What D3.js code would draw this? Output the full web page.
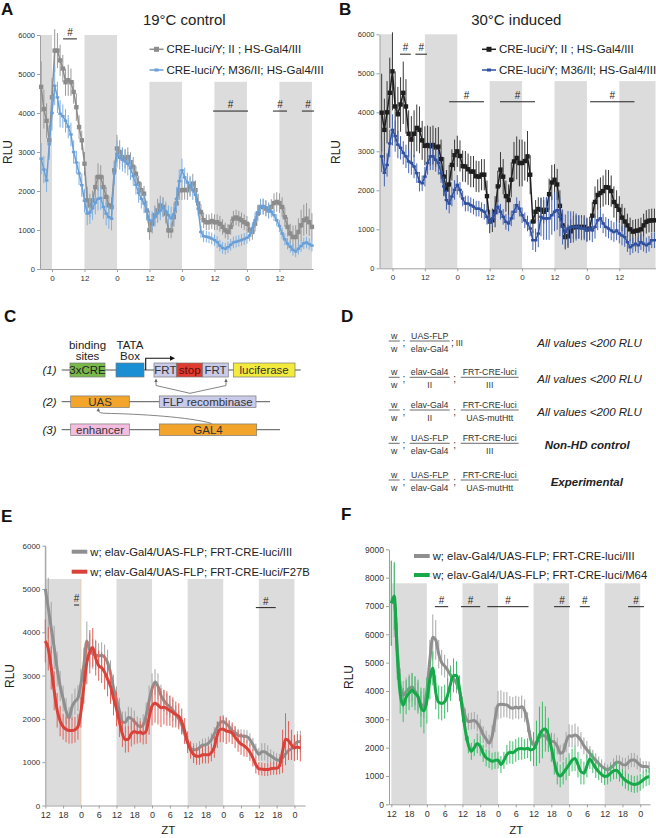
<!DOCTYPE html>
<html><head><meta charset="utf-8">
<script src="https://cdn.jsdelivr.net/npm/d3@7"></script>
<style>body{margin:0;background:#fff}svg{display:block}</style>
</head><body>
<svg id="fig" width="656" height="838"></svg>
<script>
// ---------------- DATA ----------------
// Panel A (19°C control), hourly from ZT -4 to 96
const aStart = -4;
const aGray = [4670,4100,3800,3300,4400,
 5600,5600,5350,5140,4790,4840,4790,4540,4150,3640,3300,2700,
 1760,1630,1760,2100,2360,2360,2100,1850,1630,1590,2530,3090,
 3000,2870,2830,2870,2740,2620,2440,2190,2020,1930,1500,1000,
 1160,1380,1500,1630,1590,1420,990,990,1330,1680,2020,2020,
 2030,2020,2100,2190,2020,1680,1460,1250,1200,1200,1230,1200,
 1200,1160,1080,990,950,1080,1290,1320,1290,1250,1200,1160,
 990,950,1160,1420,1590,1590,1550,1500,1590,1690,1720,1690,
 1590,1330,1080,910,820,820,950,1120,1250,1290,1200,1080];
const aGrayErr = [650,500,450,400, 500,550,450,400, 350,350,400,350,300,350,300,250,
 300,350,300,250,300,350,300,300,250,250,250,250,
 350,300,250,250,250,250,250,200,200,200,200,250,
 250,250,250,300,250,250,250,200,200,250,250,250,
 250,250,250,250,250,250,250,200,200,200,200,200,
 200,200,200,200,200,200,200,200,200,200,200,200,
 200,200,200,200,200,200,200,200,200,200,250,250,
 250,250,250,250,250,300,300,350,400,400,400,350,350];
const aBlue = [2830,2550,2270,3200,4000,
 4700,4400,3980,3920,3800,3650,3450,3000,2730,2450,2150,1750,
 1420,1450,1560,1700,1800,1820,1590,1420,1330,1290,2450,2950,
 2850,2800,2760,2700,2580,2380,2160,1950,1800,1680,1500,1250,
 1230,1330,1430,1500,1580,1480,1380,1300,1400,1800,2250,2530,
 2350,2220,2140,2020,1900,1550,950,840,830,810,780,740,
 690,600,540,520,560,620,680,700,720,745,770,800,
 860,1050,1250,1450,1600,1610,1570,1500,1470,1380,1250,1100,
 910,760,650,570,490,450,520,590,660,680,640,600];
const aBlueErr = [400,350,300,400, 450,500,400,350, 300,300,300,300,300,300,300,300,
 300,300,300,300,300,300,300,300,300,300,300,300,
 350,300,300,300,300,300,250,250,250,250,250,250,
 250,250,250,250,250,250,250,250,300,300,300,300,
 300,250,250,250,250,200,200,150,150,150,150,150,
 150,150,150,150,150,150,150,150,150,150,150,150,
 150,150,150,200,200,200,200,200,200,150,150,150,
 150,150,150,150,150,150,150,150,150,150,150,150,150];

// Panel B (30°C induced), hourly from ZT -4 to 97
const bStart = -4;
const bBlack = [3990,3550,4000,4500,5050,
 4150,3950,4200,4500,4150,3450,3300,3450,3600,3550,3280,3140,
 3160,3130,3160,3100,3120,2800,2350,2020,2150,2650,2900,3000,
 2880,2620,2610,2540,2480,2480,2360,2350,2400,2400,1850,1200,
 1230,1450,2100,2530,2350,1850,1750,2270,2740,2830,2700,2700,
 2750,2870,2400,1200,1450,1520,1500,1450,1500,1900,2200,2270,
 2150,1600,1100,800,820,950,1050,1060,1060,1060,1060,1000,
 1020,1350,1700,1880,1930,1980,2080,2070,1980,1700,1600,1500,
 1300,1200,1100,1000,940,960,970,1000,1100,1190,1220,1230,1230];
const bBlackErr = [1000,800,800,900, 1000,900,700,700, 800,700,600,600,600,600,600,500,
 500,500,500,500,500,500,500,500,500,500,400,400,
 400,400,400,400,400,400,400,400,400,400,400,400,
 300,300,400,400,450,450,400,400,450,500,550,600,
 600,500,650,500,300,300,300,300,300,300,400,450,
 400,400,400,300,300,300,300,300,300,300,300,300,
 300,300,350,400,400,400,400,450,450,400,400,400,
 350,350,350,300,300,300,300,300,300,300,300,300,300,300];
const bBlue = [2870,2450,2650,3200,3550,
 3390,3170,3090,2960,2870,2740,2700,2610,2440,2220,2180,2350,
 2700,2870,2870,2780,2700,2440,2100,1750,1660,1840,2010,2140,
 2010,1790,1660,1660,1620,1580,1530,1530,1490,1450,1320,1190,
 1280,1410,1580,1450,1320,1190,1150,1280,1450,1620,1530,1360,
 1230,1150,1020,720,720,890,1320,1280,1280,1280,1360,1450,
 1490,1320,1060,930,1020,1060,1060,1060,1060,1020,1020,970,
 1020,970,1060,1230,1280,1150,1060,1020,970,930,970,890,
 840,800,670,540,590,630,590,670,630,590,630,720,720];
const bBlueErr = [400,350,300,350, 400,400,350,300, 300,300,300,300,300,250,250,200,
 250,300,350,350,300,300,250,250,250,250,250,250,
 250,200,200,200,200,200,200,200,200,200,200,200,
 200,200,200,200,200,200,200,200,200,200,200,200,
 200,200,200,200,250,300,350,500,550,550,550,500,
 500,500,500,450,450,450,400,400,350,300,300,300,
 300,300,300,300,250,250,250,250,250,250,250,250,
 250,250,250,250,200,200,200,200,200,200,200,200,200,200];

// Panel E, hourly from start (ZT12) 0..86 h
const eGray = [5000,4560,4100,3650,3150,2760,2470,2180,2020,2280,2400,2480,
 2800,3250,3800,3580,3500,3480,3450,3470,3420,3300,3050,2720,
 2450,2180,1920,1920,2030,2010,1940,1860,1820,1860,2080,2420,
 2700,2850,2750,2540,2420,2340,2280,2200,2110,2000,1860,1650,
 1450,1330,1290,1290,1340,1390,1400,1440,1520,1660,1800,1920,
 1940,1890,1820,1730,1680,1620,1610,1600,1590,1520,1410,1280,
 1180,1240,1240,1190,1150,1100,1060,1040,1100,1190,1270,1310,1400,1470,1480];
const eGrayErr = [1000,700,600,500,400,350,300,300,250,300,300,300,
 350,400,450,400,350,350,300,300,300,300,300,300,
 300,300,250,250,250,250,250,200,200,250,300,350,
 350,300,300,250,250,250,250,250,200,200,200,200,
 150,150,150,150,150,150,150,150,150,150,150,150,
 150,150,150,150,150,150,150,150,150,150,150,150,
 150,200,200,200,150,150,150,150,150,150,200,200,200,250,250];
const eRed = [3800,3620,3180,2650,2200,1950,1820,1760,1730,1730,1750,1820,
 2150,2750,3300,3550,3650,3400,3230,3180,3080,2920,2750,2480,
 2230,1930,1650,1520,1530,1660,1710,1680,1700,1660,1720,2030,
 2300,2360,2320,2260,2270,2240,2190,2150,2100,2060,1940,1720,
 1460,1280,1180,1140,1140,1170,1170,1170,1220,1350,1630,1760,
 1760,1720,1710,1670,1580,1490,1420,1380,1320,1230,1100,940,
 850,840,830,830,850,860,860,920,1250,1530,1500,1400,1330,1350,1320];
const eRedErr = [500,500,500,450,400,350,300,300,300,300,300,300,
 350,400,500,500,450,400,350,350,400,400,400,400,
 400,350,300,300,300,300,300,250,250,250,300,400,
 450,450,450,450,400,400,350,350,300,300,300,300,
 250,200,200,200,200,200,200,200,200,250,300,300,
 300,300,250,250,250,250,250,250,200,200,200,200,
 150,150,150,150,150,150,150,200,500,600,450,350,300,300,300];

// Panel F, hourly from start (ZT12) 0..87 h
const fGray = [7090,7200,5500,4200,3850,3970,4090,4140,4000,3800,3550,3450,
 4000,5100,5900,5800,5300,5000,4880,4740,4560,4440,4270,4000,
 3500,3090,2920,2940,2960,2870,2700,2460,2300,2160,2390,3000,
 3500,3530,3520,3510,3420,3390,3430,3400,3440,3300,2900,2300,
 2100,2200,2360,2440,2400,2270,2230,2200,2050,1800,1850,2200,
 2420,2400,2450,2390,2250,2060,1930,1800,1670,1550,1440,1340,
 1270,1210,1290,1370,1480,1480,1400,1390,1480,1560,1560,1480,1380,1330,1330,1310];
const fGrayErr = [1500,1300,900,600,500,500,500,500,500,500,450,400,
 500,700,800,700,500,450,400,400,350,350,350,350,
 300,300,300,300,300,300,300,300,300,300,400,450,
 500,500,450,450,400,400,400,400,400,400,350,300,
 300,300,300,300,300,300,300,300,300,300,300,350,
 400,400,400,350,300,300,300,250,250,250,250,250,
 200,200,200,250,250,250,250,250,250,250,250,250,250,200,200,200];
const fGreen = [7100,7350,5300,3900,3500,3780,3920,4030,3920,3800,3420,3300,
 3650,4400,4800,3950,3600,3560,3620,3850,4250,4550,4550,4100,
 3300,2600,2100,1870,2000,2150,2050,1800,1640,1580,1520,1550,
 1560,1400,1550,1750,1840,1820,1900,1960,1970,1950,1980,1920,
 1950,2150,2450,2620,2660,2450,2000,1500,1100,1000,1100,1250,
 1400,1560,1620,1400,1150,1100,1350,1600,1450,1280,1150,1050,
 980,1000,1100,1180,1200,1100,950,850,780,730,700,720,780,860,940,980];
const fGreenErr = [1500,1200,900,700,600,600,600,600,600,600,700,800,
 800,700,600,600,600,600,600,600,600,600,500,450,
 400,350,300,300,300,350,350,300,300,300,300,300,
 300,300,300,350,400,400,400,400,400,350,350,400,
 600,800,1000,1000,800,600,500,450,400,400,400,400,
 400,400,450,450,450,400,400,350,350,350,300,300,
 300,300,300,300,300,300,300,300,300,300,300,300,300,300,300,300];

// tick labels
const abTickVals = [0,12,24,36,48,60,72,84];
const abTickLabels = ["0","12","0","12","0","12","0","12"];
const efTickVals = [0,6,12,18,24,30,36,42,48,54,60,66,72,78,84];
const efTickLabels = ["12","18","0","6","12","18","0","6","12","18","0","6","12","18","0"];

// legend labels
const abLegend = ["CRE-luci/Y; II ; HS-Gal4/III", "CRE-luci/Y; M36/II; HS-Gal4/III"];
const eLegend = ["w; elav-Gal4/UAS-FLP; FRT-CRE-luci/III", "w; elav-Gal4/UAS-FLP; FRT-CRE-luci/F27B"];
const fLegend = ["w; elav-Gal4/UAS-FLP; FRT-CRE-luci/III", "w; elav-Gal4/UAS-FLP; FRT-CRE-luci/M64"];

// significance intervals [tStart, tEnd, value level]
const aSig = [[4.1,9.2,5900],[59.5,72.4,4050],[81.6,86.8,4050],[92.3,96.8,4050]];
const bSig = [[2.8,6.8,5490],[8.5,12.8,5490],[21.0,33.9,4270],[39.8,52.8,4270],[73.2,89.6,4270]];
const eSig = [[9.7,11.4,4630],[71.0,77.7,4570]];
const fSig = [[14.7,19.2,6975],[23.5,30.0,6975],[32.4,46.3,6975],[54.9,60.3,6975],[63.6,67.0,6975],[79.9,85.3,6975]];

// ---------------- DRAWING ----------------
const FONT = '"Liberation Sans", Arial, Helvetica, sans-serif';
const svg = d3.select('#fig').attr('font-family', FONT);
const SHADE = '#dcdcdc';

function text(g, x, y, s, opt = {}) {
  const t = g.append('text').attr('x', x).attr('y', y).text(s)
    .attr('font-size', opt.size || 11).attr('fill', opt.fill || '#222')
    .attr('text-anchor', opt.anchor || 'start');
  if (opt.italic) t.attr('font-style', 'italic');
  if (opt.bold) t.attr('font-weight', 'bold');
  if (opt.rotate) t.attr('transform', `rotate(${opt.rotate},${x},${y})`);
  return t;
}

function drawPanel(o) {
  const g = svg.append('g');
  const x = d3.scaleLinear().domain(o.tDomain).range(o.xRange);
  const y = d3.scaleLinear().domain([0, o.yMax]).range(o.yRange);
  // night bands
  g.append('g').selectAll('rect').data(o.bands).join('rect')
    .attr('x', d => x(d[0])).attr('width', d => x(d[1]) - x(d[0]))
    .attr('y', d => y(d[2])).attr('height', d => y(0) - y(d[2]))
    .attr('fill', SHADE);
  if (o.bandEdge) {
    const b = o.bands[0];
    g.append('line').attr('x1', x(b[1])).attr('x2', x(b[1])).attr('y1', y(b[2])).attr('y2', y(0))
      .attr('stroke', '#e2cdb0').attr('stroke-width', 1);
  }
  // axes
  const ya = g.append('g').attr('transform', `translate(${o.xRange[0]},0)`)
    .call(d3.axisLeft(y).tickValues(d3.range(0, o.yMax + 1, 1000)).tickFormat(d3.format('d'))
      .tickSize(3).tickSizeOuter(0).tickPadding(2));
  const xa = g.append('g').attr('transform', `translate(0,${o.yRange[0]})`)
    .call(d3.axisBottom(x).tickValues(o.xTicks).tickFormat((d, i) => o.xLabels[i]).tickSize(3).tickSizeOuter(0).tickPadding(3));
  [ya, xa].forEach(a => {
    a.select('.domain').attr('stroke', '#a0a0a0');
    a.selectAll('.tick line').attr('stroke', '#a0a0a0');
    a.selectAll('.tick text').attr('fill', '#333').attr('font-family', FONT);
  });
  ya.selectAll('.tick text').attr('font-size', o.yFont);
  xa.selectAll('.tick text').attr('font-size', o.xFont);
  // series
  o.series.forEach(s => {
    const pts = s.vals.map((v, i) => ({ t: s.t0 + i, v: v, e: s.errs[i] }));
    g.append('g').selectAll('line').data(pts).join('line')
      .attr('x1', d => x(d.t)).attr('x2', d => x(d.t))
      .attr('y1', d => y(Math.max(0, d.v - d.e))).attr('y2', d => y(d.v + d.e))
      .attr('stroke', s.errColor).attr('stroke-width', s.errWidth || 1);
    const line = d3.line().x(d => x(d.t)).y(d => y(d.v));
    if (s.smooth) line.curve(d3.curveMonotoneX);
    g.append('path').datum(pts).attr('d', line).attr('fill', 'none')
      .attr('stroke', s.color).attr('stroke-width', s.width).attr('stroke-linejoin', 'round');
    if (s.marker === 'square') {
      g.append('g').selectAll('rect').data(pts).join('rect')
        .attr('x', d => x(d.t) - 2.2).attr('y', d => y(d.v) - 2.2).attr('width', 4.4).attr('height', 4.4)
        .attr('fill', s.color);
    } else if (s.marker === 'dash') {
      g.append('g').selectAll('rect').data(pts).join('rect')
        .attr('x', d => x(d.t) - 1.8).attr('y', d => y(d.v) - 1.2).attr('width', 3.6).attr('height', 2.4)
        .attr('fill', s.color);
    }
  });
  // significance bars
  o.sig.forEach(sg => {
    g.append('line').attr('x1', x(sg[0])).attr('x2', x(sg[1])).attr('y1', y(sg[2])).attr('y2', y(sg[2]))
      .attr('stroke', '#222').attr('stroke-width', 1);
    text(g, (x(sg[0]) + x(sg[1])) / 2, y(sg[2]) - 3, '#', { size: 10, anchor: 'middle' });
  });
  // legend
  o.legend.forEach((lg, i) => {
    const ly = o.legPos[1] + i * o.legStep;
    const s = o.series[i];
    g.append('line').attr('x1', o.legPos[0]).attr('x2', o.legPos[0] + o.legSw).attr('y1', ly).attr('y2', ly)
      .attr('stroke', s.color).attr('stroke-width', s.legWidth || s.width);
    if (s.marker === 'square')
      g.append('rect').attr('x', o.legPos[0] + o.legSw / 2 - 2.5).attr('y', ly - 2.5).attr('width', 5).attr('height', 5).attr('fill', s.color);
    if (s.marker === 'dash')
      g.append('rect').attr('x', o.legPos[0] + o.legSw / 2 - 2).attr('y', ly - 1.5).attr('width', 4).attr('height', 3).attr('fill', s.color);
    text(g, o.legPos[0] + o.legSw + 3, ly + 4, lg, { size: o.legFont, fill: '#222' });
  });
  return { g, x, y };
}

// Panel A
drawPanel({
  tDomain: [-4.43, 96.4], xRange: [40, 313], yMax: 6000, yRange: [269, 35],
  bands: [[-4.43, 0, 6000], [12, 24, 6000], [36, 48, 4800], [60, 72, 4800], [84, 96, 4800]],
  xTicks: abTickVals, xLabels: abTickLabels, xFont: 8, yFont: 7.5,
  series: [
    { t0: aStart, vals: aGray, errs: aGrayErr, color: '#8c8c8c', errColor: '#9a9a9a', width: 1.5, marker: 'square' },
    { t0: aStart, vals: aBlue, errs: aBlueErr, color: '#6a9fd6', errColor: '#7fb0e0', width: 1.5, marker: 'dash' }
  ],
  sig: aSig, legend: abLegend, legPos: [149.5, 49.3], legStep: 20.7, legSw: 14, legFont: 11.5
});
// Panel B
drawPanel({
  tDomain: [-4.8, 97.4], xRange: [379.5, 655.5], yMax: 6000, yRange: [268.3, 34.3],
  bands: [[-4.6, 0, 6000], [12, 24, 6000], [36, 48, 4800], [60, 72, 4800], [84, 97.4, 4800]],
  xTicks: abTickVals, xLabels: abTickLabels, xFont: 8, yFont: 7.5,
  series: [
    { t0: bStart, vals: bBlack, errs: bBlackErr, color: '#1e1e1e', errColor: '#3a3a3a', width: 1.5, marker: 'square' },
    { t0: bStart, vals: bBlue, errs: bBlueErr, color: '#2f4f9f', errColor: '#4563b0', width: 1.5, marker: 'dash' }
  ],
  sig: bSig, legend: abLegend, legPos: [482, 49.3], legStep: 20.7, legSw: 14, legFont: 11.5
});
// Panel E
drawPanel({
  tDomain: [0, 87.6], xRange: [45.3, 305.1], yMax: 6000, yRange: [805.5, 545.7],
  bands: [[0, 12, 5230], [24, 36, 5230], [48, 60, 5230], [72, 84, 5230]], bandEdge: true,
  xTicks: efTickVals, xLabels: efTickLabels, xFont: 9, yFont: 8,
  series: [
    { t0: 0, vals: eGray, errs: eGrayErr, color: '#8f8f8f', errColor: '#a6a6a6', width: 3, smooth: true, legWidth: 4 },
    { t0: 0, vals: eRed, errs: eRedErr, color: '#d8423a', errColor: '#e0625a', width: 3, smooth: true, legWidth: 4 }
  ],
  sig: eSig, legend: eLegend, legPos: [71.7, 551.7], legStep: 20, legSw: 15.6, legFont: 11.3
});
// Panel F
drawPanel({
  tDomain: [-0.78, 87.3], xRange: [389, 650], yMax: 9000, yRange: [804.3, 549.3],
  bands: [[0, 12, 7800], [24, 36, 7800], [48, 60, 7800], [72, 84, 7800]],
  xTicks: efTickVals, xLabels: efTickLabels, xFont: 9, yFont: 8.5,
  series: [
    { t0: 0, vals: fGray, errs: fGrayErr, color: '#8f8f8f', errColor: '#a6a6a6', width: 3, smooth: true, legWidth: 4 },
    { t0: 0, vals: fGreen, errs: fGreenErr, color: '#17a84a', errColor: '#3cbf68', width: 3, smooth: true, legWidth: 4 }
  ],
  sig: fSig, legend: fLegend, legPos: [414, 556], legStep: 19, legSw: 15.7, legFont: 11.3
});

// titles, panel letters, axis labels
const T = svg.append('g');
text(T, 184.3, 25, '19°C control', { size: 15, anchor: 'middle' });
text(T, 516.3, 25, '30°C induced', { size: 15, anchor: 'middle' });
[['A', 1, 15], ['B', 339, 15], ['C', 4, 322], ['D', 341, 322], ['E', 1, 522], ['F', 341, 520]]
  .forEach(p => text(T, p[1], p[2], p[0], { size: 17, bold: true, fill: '#111' }));
text(T, 12, 152, 'RLU', { size: 12, anchor: 'middle', rotate: -90 });
text(T, 340, 152, 'RLU', { size: 12, anchor: 'middle', rotate: -90 });
text(T, 14, 676, 'RLU', { size: 12, anchor: 'middle', rotate: -90 });
text(T, 353, 677, 'RLU', { size: 12, anchor: 'middle', rotate: -90 });
text(T, 168.3, 834, 'ZT', { size: 11.5, anchor: 'middle' });
text(T, 516.3, 834, 'ZT', { size: 11.5, anchor: 'middle' });

// ---------------- Panel C: constructs ----------------
const C = svg.append('g');
const cRows = [{ y: 370, x1: 300.7, lab: '(1)', h: 14 }, { y: 401.7, x1: 270, lab: '(2)', h: 11.5 }, { y: 429.7, x1: 280, lab: '(3)', h: 11.5 }];
cRows.forEach(r => {
  C.append('line').attr('x1', 61.7).attr('x2', r.x1).attr('y1', r.y).attr('y2', r.y).attr('stroke', '#555').attr('stroke-width', 1);
  text(C, 42.5, r.y + 4, r.lab, { size: 11.5, italic: true });
});
const cBoxes = [
  [0, 70, 105, '#79b94c', '3xCRE', '#222'],
  [0, 116, 144, '#1b8fd3', '', '#222'],
  [0, 154, 176.7, '#c9cbe8', 'FRT', '#333'],
  [0, 176.7, 202.7, '#e13a2f', 'stop', '#5a1010'],
  [0, 202.7, 228.3, '#c9cbe8', 'FRT', '#333'],
  [0, 233.3, 295, '#f3ea3e', 'luciferase', '#333'],
  [1, 70.7, 129.3, '#f2a52a', 'UAS', '#333'],
  [1, 159.3, 256, '#c9cbe8', 'FLP recombinase', '#333'],
  [2, 70.7, 129.3, '#f4bde0', 'enhancer', '#333'],
  [2, 159.3, 256.7, '#f2a52a', 'GAL4', '#333']
];
cBoxes.forEach(b => {
  const r = cRows[b[0]];
  C.append('rect').attr('x', b[1]).attr('y', r.y - r.h / 2).attr('width', b[2] - b[1]).attr('height', r.h)
    .attr('fill', b[3]).attr('stroke', '#7a7a7a').attr('stroke-width', 0.7);
  if (b[4]) text(C, (b[1] + b[2]) / 2, r.y + 4, b[4], { size: 11.5, anchor: 'middle', fill: b[5] });
});
text(C, 87.5, 349, 'binding', { size: 11.5, anchor: 'middle' });
text(C, 87.5, 360, 'sites', { size: 11.5, anchor: 'middle' });
text(C, 130, 349, 'TATA', { size: 11.5, anchor: 'middle' });
text(C, 130, 360, 'Box', { size: 11.5, anchor: 'middle' });
// transcription start arrow
C.append('path').attr('d', 'M145.7,370 V358.3 H171').attr('fill', 'none').attr('stroke', '#111').attr('stroke-width', 1.1);
C.append('path').attr('d', 'M175,358.3 L170,355.8 L170,360.8 Z').attr('fill', '#111');
// FRT recombination arrows
C.append('path').attr('d', 'M156,381 V385.5 L190,393.3 L226,385.5 V381').attr('fill', 'none').attr('stroke', '#666').attr('stroke-width', 0.8);
C.append('path').attr('d', 'M156,378.5 L154.3,382 L157.7,382 Z').attr('fill', '#666');
C.append('path').attr('d', 'M226,378.5 L224.3,382 L227.7,382 Z').attr('fill', '#666');
// GAL4 -> UAS arrow
C.append('path').attr('d', 'M211.7,423.5 C190,417 140,414 105,413.3 C100,413 98.5,412 98.3,410.5')
  .attr('fill', 'none').attr('stroke', '#666').attr('stroke-width', 0.8);
C.append('path').attr('d', 'M98.3,408 L96.6,411.3 L100,411.3 Z').attr('fill', '#666');

// ---------------- Panel D: genotypes ----------------
const D = svg.append('g');
const dRows = [
  { y: 341, f2: ['UAS-FLP', 'elav-Gal4'], f3: null, note: 'All values <200 RLU', bold: false, nx: 537.3 },
  { y: 377.3, f2: ['elav-Gal4', 'II'], f3: ['FRT-CRE-luci', 'III'], note: 'All values <200 RLU', bold: false, nx: 537.3 },
  { y: 410, f2: ['elav-Gal4', 'II'], f3: ['FRT-CRE-luci', 'UAS-mutHtt'], note: 'All values <200 RLU', bold: false, nx: 537.3 },
  { y: 443.3, f2: ['UAS-FLP', 'elav-Gal4'], f3: ['FRT-CRE-luci', 'III'], note: 'Non-HD control', bold: true, nx: 544.7 },
  { y: 480, f2: ['UAS-FLP', 'elav-Gal4'], f3: ['FRT-CRE-luci', 'UAS-mutHtt'], note: 'Experimental', bold: true, nx: 550.7 }
];
function frac(g, cx, y, w, num, den) {
  g.append('line').attr('x1', cx - w / 2).attr('x2', cx + w / 2).attr('y1', y).attr('y2', y).attr('stroke', '#444').attr('stroke-width', 0.8);
  text(g, cx, y - 2.2, num, { size: 8.8, anchor: 'middle', fill: '#333' });
  text(g, cx, y + 10.5, den, { size: 8.8, anchor: 'middle', fill: '#333' });
}
dRows.forEach(r => {
  frac(D, 394.2, r.y, 11, 'w', 'w');
  text(D, 404, r.y + 5, ';', { size: 10, anchor: 'middle', fill: '#333' });
  frac(D, 429.7, r.y, 40, r.f2[0], r.f2[1]);
  if (r.f3) {
    text(D, 454.7, r.y + 5, ';', { size: 10, anchor: 'middle', fill: '#333' });
    frac(D, 489.7, r.y, 58, r.f3[0], r.f3[1]);
  } else {
    text(D, 452.5, r.y + 5, ';', { size: 10, anchor: 'middle', fill: '#333' });
    text(D, 455.7, r.y + 4.5, 'III', { size: 8.8, fill: '#333' });
  }
  text(D, r.nx, r.y + 5.8, r.note, { size: 11.5, italic: true, bold: r.bold, fill: '#222' });
});
</script>
</body></html>
